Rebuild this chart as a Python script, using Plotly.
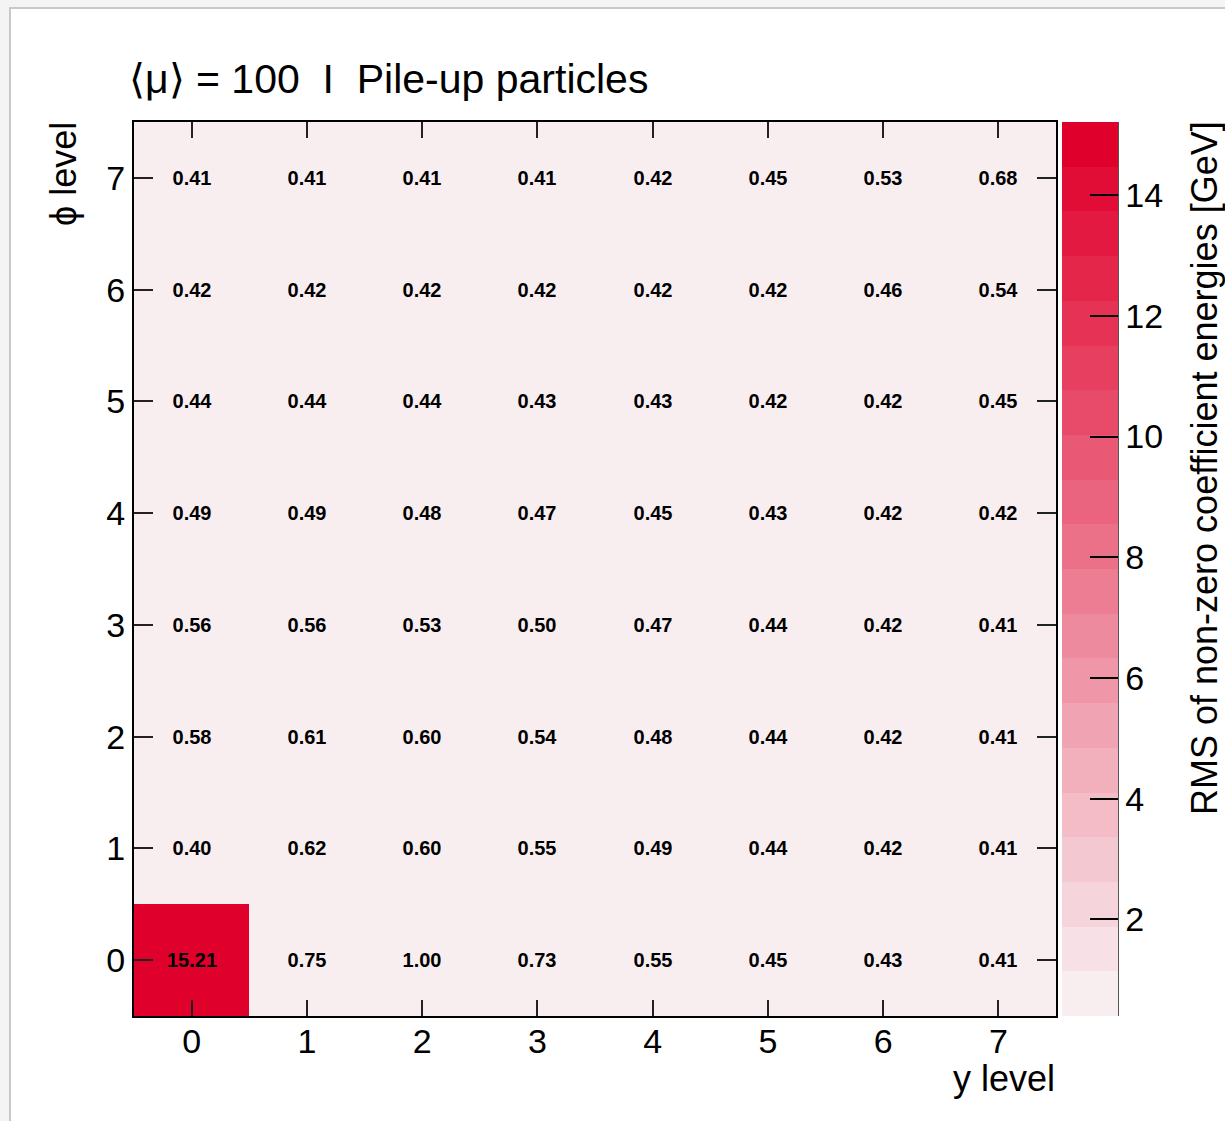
import plotly.graph_objects as go

# ---- data ----
y_levels = [0, 1, 2, 3, 4, 5, 6, 7]   # x axis: y level
phi_levels = [0, 1, 2, 3, 4, 5, 6, 7]  # y axis: phi level
# rows indexed by phi level (0 at bottom), columns by y level
rms = [
    [15.21, 0.75, 1.00, 0.73, 0.55, 0.45, 0.43, 0.41],
    [0.40, 0.62, 0.60, 0.55, 0.49, 0.44, 0.42, 0.41],
    [0.58, 0.61, 0.60, 0.54, 0.48, 0.44, 0.42, 0.41],
    [0.56, 0.56, 0.53, 0.50, 0.47, 0.44, 0.42, 0.41],
    [0.49, 0.49, 0.48, 0.47, 0.45, 0.43, 0.42, 0.42],
    [0.44, 0.44, 0.44, 0.43, 0.43, 0.42, 0.42, 0.45],
    [0.42, 0.42, 0.42, 0.42, 0.42, 0.42, 0.46, 0.54],
    [0.41, 0.41, 0.41, 0.41, 0.42, 0.45, 0.53, 0.68],
]
cbar_ticks = [2, 4, 6, 8, 10, 12, 14]
title_text = "⟨μ⟩ = 100  I  Pile-up particles"
x_title = "y level"
y_title = "ϕ level"
cbar_title = "RMS of non-zero coefficient energies [GeV]"

# ---- discrete colour scale (20 contour levels, like ROOT) ----
n_levels = 20
lo = (248, 238, 240)
hi = (224, 0, 44)
colorscale = []
for i in range(n_levels):
    t = i / (n_levels - 1)
    c = tuple(round(lo[k] + (hi[k] - lo[k]) * t) for k in range(3))
    col = f"rgb({c[0]},{c[1]},{c[2]})"
    colorscale.append([i / n_levels, col])
    colorscale.append([(i + 1) / n_levels, col])

zmin = min(min(r) for r in rms)
zmax = max(max(r) for r in rms)

FONT = "Liberation Sans, Arial, Helvetica, sans-serif"
W, H = 1225, 1121
L, R, T, B = 134, 1056, 122, 1016  # plot area in pixels


def px_x(px):
    return (px - L) / (R - L)


def px_y(py):
    return (B - py) / (B - T)


fig = go.Figure()
fig.add_trace(go.Heatmap(
    x=y_levels, y=phi_levels, z=rms,
    zmin=zmin, zmax=zmax,
    colorscale=colorscale,
    texttemplate="%{z:.2f}",
    textfont=dict(family=FONT, size=20, color="black", weight="bold"),
    hoverongaps=False,
    colorbar=dict(
        x=px_x(1062), xanchor="left", xpad=0,
        y=0.5, yanchor="middle", len=1, lenmode="fraction", ypad=0,
        thickness=56, thicknessmode="pixels",
        outlinewidth=0,
        tickmode="array", tickvals=cbar_ticks,
        ticks="inside", ticklen=28, tickwidth=2, tickcolor="black",
        tickfont=dict(family=FONT, size=34, color="black"),
    ),
))

fig.update_xaxes(
    range=[-0.5, 7.5], tickmode="array", tickvals=y_levels,
    ticks="inside", ticklen=16, tickwidth=2, tickcolor="#222",
    showline=True, linecolor="black", linewidth=2, mirror="ticks",
    showgrid=False, zeroline=False, ticklabelstandoff=-6,
    tickfont=dict(family=FONT, size=34, color="black"),
)
fig.update_yaxes(
    range=[-0.5, 7.5], tickmode="array", tickvals=phi_levels,
    ticks="inside", ticklen=19, tickwidth=2, tickcolor="#222",
    showline=True, linecolor="black", linewidth=2, mirror="ticks",
    showgrid=False, zeroline=False,
    tickfont=dict(family=FONT, size=34, color="black"),
)

shapes = [
    # outer light-grey page frame
    dict(type="rect", xref="paper", yref="paper",
         x0=px_x(-5), x1=px_x(W + 5), y0=px_y(H + 5), y1=px_y(-5),
         fillcolor="#f4f4f4", line=dict(width=0), layer="below"),
    dict(type="rect", xref="paper", yref="paper",
         x0=px_x(10), x1=px_x(W + 10), y0=px_y(H + 10), y1=px_y(8),
         fillcolor="white", line=dict(color="#c8c8c8", width=2), layer="below"),
    # colour bar right edge
    dict(type="line", xref="paper", yref="paper",
         x0=px_x(1118), x1=px_x(1118), y0=0, y1=1,
         line=dict(color="#555", width=2)),
]

annotations = [
    dict(text=title_text, xref="paper", yref="paper",
         x=px_x(127), y=px_y(79), xanchor="left", yanchor="middle",
         showarrow=False, font=dict(family=FONT, size=41, color="black")),
    dict(text=x_title, xref="paper", yref="paper",
         x=px_x(1057), y=px_y(1078), xanchor="right", yanchor="middle",
         showarrow=False, font=dict(family=FONT, size=36, color="black")),
    dict(text=y_title, xref="paper", yref="paper", textangle=-90,
         x=px_x(64), y=px_y(120), xanchor="center", yanchor="top",
         showarrow=False, font=dict(family=FONT, size=36, color="black")),
    dict(text=cbar_title, xref="paper", yref="paper", textangle=-90,
         x=px_x(1205), y=px_y(119), xanchor="center", yanchor="top",
         showarrow=False, font=dict(family=FONT, size=36, color="black")),
]

fig.update_layout(
    width=W, height=H,
    margin=dict(l=L, r=W - R, t=T, b=H - B, pad=0),
    paper_bgcolor="white", plot_bgcolor="white",
    shapes=shapes, annotations=annotations,
    font=dict(family=FONT, color="black"),
    showlegend=False,
)

fig.write_html(
    "out.html",
    config={"displayModeBar": False},
    post_script="document.body.style.margin='0';document.body.style.overflow='hidden';",
)
